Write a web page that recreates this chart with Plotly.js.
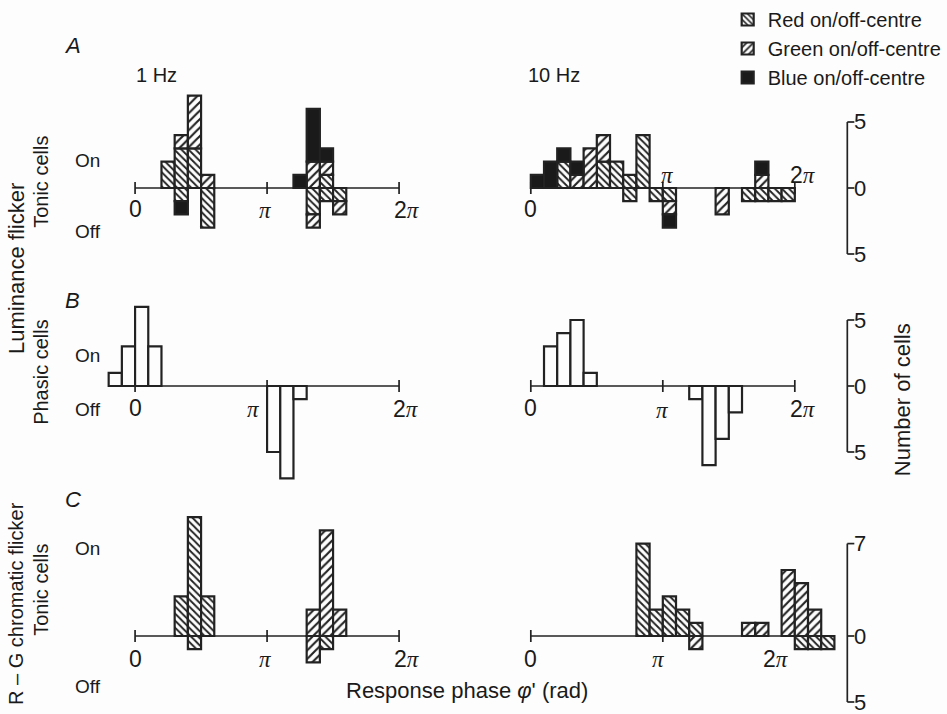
<!DOCTYPE html>
<html><head><meta charset="utf-8">
<script src="https://cdn.plot.ly/plotly-3.0.1.min.js"></script>
<style>html,body{margin:0;padding:0;background:#fdfdfd}</style>
</head><body>
<div id="chart" style="width:947px;height:714px"></div>
<script>
// ---------------- DATA (bins are phase bins of width pi/10, index 0 = [0, pi/10)) ----------------
// A, 1 Hz: tonic cells, luminance flicker
const a1RedOnBins = [2, 3, 4, 14],        a1RedOn = [2, 3, 3, 1];
const a1GreenOnBins = [3, 4, 5, 13, 14],  a1GreenOn = [1, 4, 1, 2, 1];
const a1BlueOnBins = [12, 13, 14],        a1BlueOn = [1, 4, 1];
const a1RedOffBins = [3, 5, 13, 14, 15],  a1RedOff = [1, 3, 2, 1, 1];
const a1GreenOffBins = [13, 15],          a1GreenOff = [1, 1];
const a1BlueOffBins = [3],                a1BlueOff = [1];
// A, 10 Hz
const a10RedOnBins = [2, 5, 6, 7, 8],     a10RedOn = [2, 2, 2, 1, 4];
const a10GreenOnBins = [3, 4, 5, 17],     a10GreenOn = [1, 3, 2, 1];
const a10BlueOnBins = [0, 1, 2, 3, 17],   a10BlueOn = [1, 2, 1, 1, 1];
const a10RedOffBins = [7, 9, 10, 16, 17, 18, 19], a10RedOff = [1, 1, 1, 1, 1, 1, 1];
const a10GreenOffBins = [10, 14],         a10GreenOff = [1, 2];
const a10BlueOffBins = [10],              a10BlueOff = [1];
// B: phasic cells, luminance flicker
const b1OnBins = [-2, -1, 0, 1],          b1On = [1, 3, 6, 3];
const b1OffBins = [10, 11, 12],           b1Off = [5, 7, 1];
const b10OnBins = [1, 2, 3, 4],           b10On = [3, 4, 5, 1];
const b10OffBins = [12, 13, 14, 15],      b10Off = [1, 6, 4, 2];
// C: tonic cells, R - G chromatic flicker
const c1RedOnBins = [3, 4, 5],            c1RedOn = [3, 9, 3];
const c1GreenOnBins = [13, 14, 15],       c1GreenOn = [2, 8, 2];
const c1RedOffBins = [4, 14],             c1RedOff = [1, 1];
const c1GreenOffBins = [13],              c1GreenOff = [2];
const c10RedOnBins = [8, 9, 10, 11, 12],  c10RedOn = [7, 2, 3, 2, 1];
const c10GreenOnBins = [16, 17, 19, 20, 21], c10GreenOn = [1, 1, 5, 4, 2];
const c10RedOffBins = [20, 21, 22],       c10RedOff = [1, 1, 1];
const c10GreenOffBins = [12],             c10GreenOff = [1];

const seriesNames = ['Red on/off-centre', 'Green on/off-centre', 'Blue on/off-centre'];
const xTickVals = [0, Math.PI, 2 * Math.PI];
const piTxt = '<span style="font-family:\'Liberation Serif\',serif;font-style:italic">π</span>';
const xTickText = ['0', piTxt, '2' + piTxt];
const scaleTicksAB = [5, 0, -5], scaleTextAB = ['5', '0', '5'];
const scaleTicksC = [7, 0, -5],  scaleTextC = ['7', '0', '5'];

// ---------------- STYLE / GEOMETRY ----------------
const W = 947, H = 714, K = 42.15, UNIT = 13.2;
const BIN = Math.PI / 10;
const INK = '#222222', BG = '#fdfdfd';
const FONT = '"Liberation Sans", Arial, sans-serif';
const styles = {
  red:   {color: BG, pattern: {shape: '\\', fgcolor: INK, bgcolor: BG, size: 5, solidity: 0.38}},
  green: {color: BG, pattern: {shape: '/', fgcolor: INK, bgcolor: BG, size: 6, solidity: 0.36}},
  blue:  {color: '#1a1a1a'},
  open:  {color: BG}
};
const cols = [{zero: 135.5, d0: 88, d1: 445}, {zero: 532.5, d0: 488, d1: 846}];
const rows = [{base: 188, top: 70, bot: 262}, {base: 386, top: 290, bot: 490}, {base: 636, top: 505, bot: 708}];

function bars(bins, counts, sign, st, n, name, legend) {
  return {
    type: 'bar',
    x: bins.map(b => (b + 0.5) * BIN),
    y: counts.map(c => sign * c),
    width: bins.map(() => BIN),
    xaxis: 'x' + (n === 1 ? '' : n), yaxis: 'y' + (n === 1 ? '' : n),
    marker: Object.assign({line: {color: INK, width: 2.2}}, JSON.parse(JSON.stringify(styles[st]))),
    name: name || '', showlegend: !!legend, legendrank: legend || 1000,
    hoverinfo: 'skip'
  };
}

const traces = [
  bars(a1RedOnBins, a1RedOn, 1, 'red', 1, seriesNames[0], 1),
  bars(a1GreenOnBins, a1GreenOn, 1, 'green', 1, seriesNames[1], 2),
  bars(a1BlueOnBins, a1BlueOn, 1, 'blue', 1, seriesNames[2], 3),
  bars(a1RedOffBins, a1RedOff, -1, 'red', 1),
  bars(a1GreenOffBins, a1GreenOff, -1, 'green', 1),
  bars(a1BlueOffBins, a1BlueOff, -1, 'blue', 1),

  bars(a10RedOnBins, a10RedOn, 1, 'red', 2),
  bars(a10GreenOnBins, a10GreenOn, 1, 'green', 2),
  bars(a10BlueOnBins, a10BlueOn, 1, 'blue', 2),
  bars(a10RedOffBins, a10RedOff, -1, 'red', 2),
  bars(a10GreenOffBins, a10GreenOff, -1, 'green', 2),
  bars(a10BlueOffBins, a10BlueOff, -1, 'blue', 2),

  bars(b1OnBins, b1On, 1, 'open', 3),
  bars(b1OffBins, b1Off, -1, 'open', 3),
  bars(b10OnBins, b10On, 1, 'open', 4),
  bars(b10OffBins, b10Off, -1, 'open', 4),

  bars(c1RedOnBins, c1RedOn, 1, 'red', 5),
  bars(c1GreenOnBins, c1GreenOn, 1, 'green', 5),
  bars(c1RedOffBins, c1RedOff, -1, 'red', 5),
  bars(c1GreenOffBins, c1GreenOff, -1, 'green', 5),

  bars(c10RedOnBins, c10RedOn, 1, 'red', 6),
  bars(c10GreenOnBins, c10GreenOn, 1, 'green', 6),
  bars(c10RedOffBins, c10RedOff, -1, 'red', 6),
  bars(c10GreenOffBins, c10GreenOff, -1, 'green', 6)
];

const layout = {
  width: W, height: H,
  margin: {l: 0, r: 0, t: 0, b: 0},
  paper_bgcolor: BG, plot_bgcolor: 'rgba(0,0,0,0)',
  barmode: 'relative', bargap: 0,
  font: {family: FONT, color: '#1a1a1a', size: 18},
  showlegend: true,
  legend: {x: 730 / W, y: 1, xanchor: 'left', yanchor: 'top', bgcolor: 'rgba(0,0,0,0)',
           font: {size: 20, family: FONT}, traceorder: 'normal', itemclick: false, itemdoubleclick: false},
  shapes: [], annotations: []
};

// panel list: n, column, row, label offsets [dx, dy] for 0, pi, 2pi
const panels = [
  {n: 1, c: 0, r: 0, off: [[0, 21], [-2, 22], [8, 22]]},
  {n: 2, c: 1, r: 0, off: [[0, 21], [5, -13], [8, -13]]},
  {n: 3, c: 0, r: 1, off: [[0, 22], [-14, 23], [7, 23]]},
  {n: 4, c: 1, r: 1, off: [[0, 22], [0, 24], [8, 23]]},
  {n: 5, c: 0, r: 2, off: [[0, 23], [-2, 23], [8, 23]]},
  {n: 6, c: 1, r: 2, off: [[0, 23], [-4, 23], [-19, 23]]}
];

panels.forEach(p => {
  const col = cols[p.c], row = rows[p.r];
  const sfx = p.n === 1 ? '' : p.n;
  layout['xaxis' + sfx] = {domain: [col.d0 / W, col.d1 / W],
    range: [(col.d0 - col.zero) / K, (col.d1 - col.zero) / K],
    visible: false, fixedrange: true, anchor: 'y' + sfx};
  layout['yaxis' + sfx] = {domain: [1 - row.bot / H, 1 - row.top / H],
    range: [(row.base - row.bot) / UNIT, (row.base - row.top) / UNIT],
    visible: false, fixedrange: true, anchor: 'x' + sfx};
  // baseline extent from the data bins of this panel
  const xs = traces.filter(t => t.xaxis === 'x' + sfx).flatMap(t => t.x);
  const xmin = Math.min(0, Math.min(...xs) - BIN / 2);
  const xmax = Math.max(2 * Math.PI, Math.max(...xs) + BIN / 2);
  const xr = 'x' + sfx, yr = 'y' + sfx;
  layout.shapes.push({type: 'line', xref: xr, yref: yr, x0: xmin, x1: xmax, y0: 0, y1: 0,
    line: {color: INK, width: 1.7}, layer: 'below'});
  xTickVals.forEach((v, i) => {
    layout.shapes.push({type: 'line', xref: xr, yref: yr, x0: v, x1: v,
      ysizemode: 'pixel', yanchor: 0, y0: -6, y1: 6, line: {color: INK, width: 1.7}, layer: 'below'});
    layout.annotations.push({xref: xr, yref: yr, x: v, y: 0, text: xTickText[i], showarrow: false,
      xshift: p.off[i][0], yshift: -p.off[i][1], font: {size: 23}});
  });
});

// right-hand scale bars ("Number of cells")
[[2, scaleTicksAB, scaleTextAB], [4, scaleTicksAB, scaleTextAB], [6, scaleTicksC, scaleTextC]].forEach(([n, tv, tt]) => {
  const yr = 'y' + n, xp = 850 / W;
  layout.shapes.push({type: 'line', xref: 'paper', yref: yr, x0: xp, x1: xp,
    y0: Math.min(...tv), y1: Math.max(...tv), line: {color: INK, width: 1.7}});
  tv.forEach((v, i) => {
    layout.shapes.push({type: 'line', xref: 'paper', yref: yr, xsizemode: 'pixel', xanchor: xp,
      x0: 0, x1: 7, y0: v, y1: v, line: {color: INK, width: 1.7}});
    layout.annotations.push({xref: 'paper', yref: yr, x: 871 / W, y: v, text: tt[i], showarrow: false,
      font: {size: 22}});
  });
});

function txt(t, px, py, opts) {
  layout.annotations.push(Object.assign({xref: 'paper', yref: 'paper', x: px / W, y: 1 - py / H,
    text: t, showarrow: false, xanchor: 'center', yanchor: 'middle', font: {size: 19}}, opts || {}));
}
txt('<i>A</i>', 73, 45, {font: {size: 22}});
txt('<i>B</i>', 73, 300, {font: {size: 22}});
txt('<i>C</i>', 73, 500, {font: {size: 22}});
txt('1 Hz', 157, 75, {font: {size: 20}});
txt('10 Hz', 556, 75, {font: {size: 20}});
txt('On', 88, 161); txt('Off', 88, 232);
txt('On', 88, 355); txt('Off', 88, 410);
txt('On', 88, 548); txt('Off', 88, 686);
txt('Luminance flicker', 16, 268, {textangle: -90, font: {size: 22}});
txt('Tonic cells', 41, 182, {textangle: -90, font: {size: 20}});
txt('Phasic cells', 41, 372, {textangle: -90, font: {size: 20}});
txt('R – G chromatic flicker', 16, 603, {textangle: -90, font: {size: 20}});
txt('Tonic cells', 41, 590, {textangle: -90, font: {size: 20}});
txt('Number of cells', 905, 400, {textangle: -90, font: {size: 22}});
txt('Response phase <i>φ</i>\' (rad)', 468, 690, {font: {size: 22}});

Plotly.newPlot('chart', traces, layout, {displayModeBar: false, staticPlot: true});
</script>
</body></html>
